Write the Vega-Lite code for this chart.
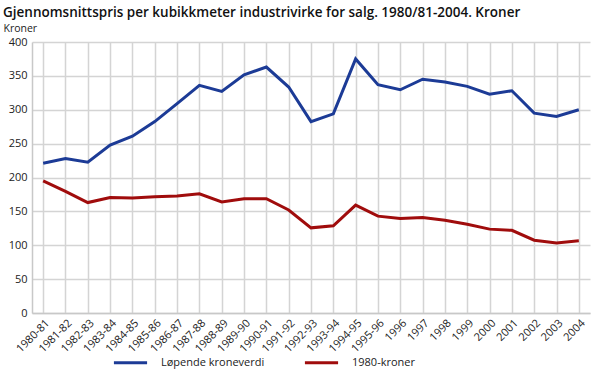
{
  "$schema": "https://vega.github.io/schema/vega-lite/v6.json",
  "width": 558,
  "height": 271,
  "autosize": {"type": "none"},
  "padding": {"left": 32, "top": 42, "right": 7, "bottom": 65},
  "background": "white",
  "config": {
    "font": "Open Sans",
    "view": {"stroke": null},
    "axis": {"gridColor": "#d4d4d4", "gridWidth": 1.5, "domainColor": "#c8c8c8", "domainWidth": 1.5, "labelColor": "#222", "labelFontSize": 11, "ticks": false}
  },
  "title": {
    "text": "Gjennomsnittspris per kubikkmeter industrivirke for salg. 1980/81-2004. Kroner",
    "anchor": "start",
    "frame": "group",
    "dx": -29,
    "offset": 4,
    "fontSize": 13.5,
    "fontWeight": 600,
    "color": "#111"
  },
  "data": {
    "values": [
      {"periode": "1980-81", "serie": "Løpende kroneverdi", "verdi": 221},
      {"periode": "1981-82", "serie": "Løpende kroneverdi", "verdi": 228},
      {"periode": "1982-83", "serie": "Løpende kroneverdi", "verdi": 222.5},
      {"periode": "1983-84", "serie": "Løpende kroneverdi", "verdi": 248},
      {"periode": "1984-85", "serie": "Løpende kroneverdi", "verdi": 261},
      {"periode": "1985-86", "serie": "Løpende kroneverdi", "verdi": 282.5},
      {"periode": "1986-87", "serie": "Løpende kroneverdi", "verdi": 309},
      {"periode": "1987-88", "serie": "Løpende kroneverdi", "verdi": 336},
      {"periode": "1988-89", "serie": "Løpende kroneverdi", "verdi": 327},
      {"periode": "1989-90", "serie": "Løpende kroneverdi", "verdi": 351.5},
      {"periode": "1990-91", "serie": "Løpende kroneverdi", "verdi": 363},
      {"periode": "1991-92", "serie": "Løpende kroneverdi", "verdi": 333.5},
      {"periode": "1992-93", "serie": "Løpende kroneverdi", "verdi": 282.5},
      {"periode": "1993-94", "serie": "Løpende kroneverdi", "verdi": 294},
      {"periode": "1994-95", "serie": "Løpende kroneverdi", "verdi": 375},
      {"periode": "1995-96", "serie": "Løpende kroneverdi", "verdi": 337},
      {"periode": "1996", "serie": "Løpende kroneverdi", "verdi": 329.5},
      {"periode": "1997", "serie": "Løpende kroneverdi", "verdi": 345},
      {"periode": "1998", "serie": "Løpende kroneverdi", "verdi": 341},
      {"periode": "1999", "serie": "Løpende kroneverdi", "verdi": 334.5},
      {"periode": "2000", "serie": "Løpende kroneverdi", "verdi": 323},
      {"periode": "2001", "serie": "Løpende kroneverdi", "verdi": 328},
      {"periode": "2002", "serie": "Løpende kroneverdi", "verdi": 295},
      {"periode": "2003", "serie": "Løpende kroneverdi", "verdi": 290},
      {"periode": "2004", "serie": "Løpende kroneverdi", "verdi": 300},
      {"periode": "1980-81", "serie": "1980-kroner", "verdi": 195},
      {"periode": "1981-82", "serie": "1980-kroner", "verdi": 179.5},
      {"periode": "1982-83", "serie": "1980-kroner", "verdi": 163},
      {"periode": "1983-84", "serie": "1980-kroner", "verdi": 170.5},
      {"periode": "1984-85", "serie": "1980-kroner", "verdi": 169.7},
      {"periode": "1985-86", "serie": "1980-kroner", "verdi": 171.6},
      {"periode": "1986-87", "serie": "1980-kroner", "verdi": 172.6},
      {"periode": "1987-88", "serie": "1980-kroner", "verdi": 176},
      {"periode": "1988-89", "serie": "1980-kroner", "verdi": 163.8},
      {"periode": "1989-90", "serie": "1980-kroner", "verdi": 168.7},
      {"periode": "1990-91", "serie": "1980-kroner", "verdi": 168.7},
      {"periode": "1991-92", "serie": "1980-kroner", "verdi": 152},
      {"periode": "1992-93", "serie": "1980-kroner", "verdi": 125.7},
      {"periode": "1993-94", "serie": "1980-kroner", "verdi": 128.7},
      {"periode": "1994-95", "serie": "1980-kroner", "verdi": 159.3},
      {"periode": "1995-96", "serie": "1980-kroner", "verdi": 143},
      {"periode": "1996", "serie": "1980-kroner", "verdi": 139.6},
      {"periode": "1997", "serie": "1980-kroner", "verdi": 141},
      {"periode": "1998", "serie": "1980-kroner", "verdi": 137},
      {"periode": "1999", "serie": "1980-kroner", "verdi": 131},
      {"periode": "2000", "serie": "1980-kroner", "verdi": 123.8},
      {"periode": "2001", "serie": "1980-kroner", "verdi": 122},
      {"periode": "2002", "serie": "1980-kroner", "verdi": 107.5},
      {"periode": "2003", "serie": "1980-kroner", "verdi": 103.5},
      {"periode": "2004", "serie": "1980-kroner", "verdi": 106.5}
    ]
  },
  "mark": {"type": "line", "strokeWidth": 3, "strokeJoin": "miter"},
  "encoding": {
    "x": {
      "field": "periode",
      "type": "ordinal",
      "sort": null,
      "scale": {"type": "point", "padding": 0.5},
      "axis": {"title": null, "labelAngle": -45, "grid": true, "labelPadding": 4, "domain": true}
    },
    "y": {
      "field": "verdi",
      "type": "quantitative",
      "scale": {"domain": [0, 400]},
      "axis": {
        "values": [0, 50, 100, 150, 200, 250, 300, 350, 400],
        "title": "Kroner",
        "titleAngle": 0,
        "titleAlign": "left",
        "titleBaseline": "alphabetic",
        "titleX": -29,
        "titleY": -11,
        "titleFontSize": 10.5,
        "titleFontWeight": "normal",
        "titleColor": "#222",
        "labelPadding": 5,
        "domain": true
      }
    },
    "color": {
      "field": "serie",
      "type": "nominal",
      "scale": {"domain": ["Løpende kroneverdi", "1980-kroner"], "range": ["#1c3b96", "#a00c0c"]},
      "legend": {
        "title": null,
        "orient": "none",
        "legendX": 80,
        "legendY": 302,
        "direction": "horizontal",
        "symbolType": "stroke",
        "symbolStrokeWidth": 3,
        "symbolSize": 1100,
        "labelFontSize": 11,
        "labelColor": "#222",
        "labelOffset": 12,
        "columnPadding": 33
      }
    }
  }
}
